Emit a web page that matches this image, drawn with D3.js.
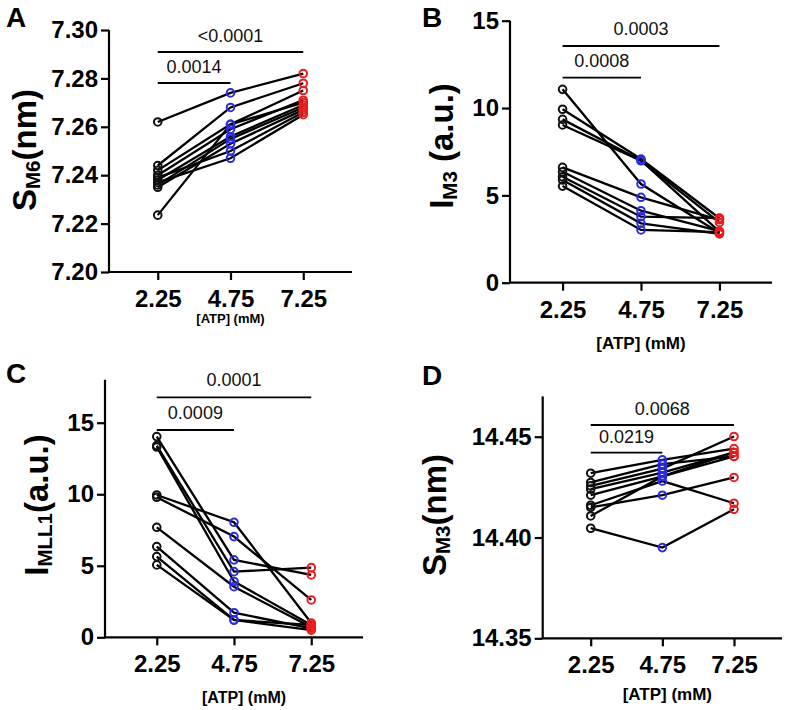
<!DOCTYPE html>
<html>
<head>
<meta charset="utf-8">
<script src="https://cdn.jsdelivr.net/npm/d3@7"></script>
<style>
  body { margin: 0; background: #fff; }
  svg { display: block; }
</style>
</head>
<body>
<svg id="fig"></svg>
<script>
// shared categories and colours per dose
var doses = ["2.25", "4.75", "7.25"];
var doseColors = ["#111111", "#2b2be6", "#ec1c1c"];

// A: S_M6 (nm), one row per sample -> [2.25, 4.75, 7.25]
var sm6 = [
  [7.262, 7.274, 7.282],
  [7.244, 7.268, 7.278],
  [7.242, 7.261, 7.275],
  [7.240, 7.259, 7.271],
  [7.238, 7.256, 7.269],
  [7.236, 7.255, 7.268],
  [7.235, 7.253, 7.267],
  [7.239, 7.250, 7.266],
  [7.237, 7.247, 7.265],
  [7.2235, 7.261, 7.270]
];
var sm6Ticks = [7.20, 7.22, 7.24, 7.26, 7.28, 7.30];
var sm6P = ["0.0014", "<0.0001"];

// B: I_M3 (a.u.)
var im3 = [
  [11.07, 5.65, 2.85],
  [9.93, 7.08, 3.69],
  [9.35, 7.00, 2.92],
  [9.03, 6.98, 3.45],
  [6.60, 4.89, 3.60],
  [6.35, 4.12, 2.95],
  [6.07, 3.78, 3.70],
  [5.88, 3.40, 2.79],
  [5.53, 3.02, 2.90]
];
var im3Ticks = [0, 5, 10, 15];
var im3P = ["0.0008", "0.0003"];

// C: I_MLL1 (a.u.)
var imll1 = [
  [14.03, 5.41, 4.36],
  [13.40, 4.59, 4.87],
  [13.30, 3.90, 0.86],
  [9.95, 8.04, 1.00],
  [9.79, 7.04, 2.61],
  [7.69, 3.54, 0.70],
  [6.34, 1.72, 0.63],
  [5.64, 1.21, 0.86],
  [5.06, 1.21, 0.50]
];
var imll1Ticks = [0, 5, 10, 15];
var imll1P = ["0.0009", "0.0001"];

// D: S_M3 (nm)
var sm3 = [
  [14.4319, 14.4385, 14.4441],
  [14.4273, 14.4364, 14.4402],
  [14.4256, 14.4342, 14.4501],
  [14.4240, 14.4322, 14.4422],
  [14.4210, 14.4303, 14.4402],
  [14.4160, 14.4280, 14.4170],
  [14.4149, 14.4210, 14.4298],
  [14.4107, 14.4303, 14.4422],
  [14.4046, 14.3950, 14.4140]
];
var sm3Ticks = [14.35, 14.40, 14.45];
var sm3P = ["0.0219", "0.0068"];

var FONT = "'Liberation Sans', Arial, Helvetica, sans-serif";

var svg = d3.select('#fig')
    .attr('width', 788)
    .attr('height', 710)
    .style('font-family', FONT);

function drawPanel(cfg) {
  var g = svg.append('g');

  var x = d3.scalePoint()
      .domain(doses)
      .range([cfg.left, cfg.right])
      .padding(0.67);
  var y = d3.scaleLinear()
      .domain(cfg.domain)
      .range([cfg.bottom, cfg.top]);

  // axes
  var xg = g.append('g')
      .attr('transform', `translate(0, ${cfg.bottom})`)
      .call(d3.axisBottom(x).tickSize(8).tickPadding(10).tickSizeOuter(0));
  var yg = g.append('g')
      .attr('transform', `translate(${cfg.left}, 0)`)
      .call(d3.axisLeft(y).tickValues(cfg.ticks).tickFormat(cfg.fmt)
            .tickSize(8).tickPadding(3).tickSizeOuter(0));
  [xg, yg].forEach(a => {
    a.select('.domain').attr('stroke', '#000').attr('stroke-width', 2.2);
    a.selectAll('.tick line').attr('stroke', '#000').attr('stroke-width', 2.2);
    a.selectAll('.tick text')
      .attr('fill', '#000')
      .style('font-family', FONT)
      .style('font-size', '24px')
      .style('font-weight', 'bold');
  });
  yg.select('.domain').attr('d', `M0,${cfg.bottom}V${cfg.top}`);
  xg.select('.domain').attr('d', `M${cfg.left},0H${cfg.right}`);

  // paired lines
  var line = d3.line()
      .x((d, i) => x(doses[i]))
      .y(d => y(d));
  g.append('g').selectAll('path').data(cfg.data).enter()
    .append('path')
    .attr('d', line)
    .attr('fill', 'none')
    .attr('stroke', '#000')
    .attr('stroke-width', 2.3);

  // open circles, coloured by dose
  doses.forEach((dose, j) => {
    g.append('g').selectAll('circle').data(cfg.data).enter()
      .append('circle')
      .attr('cx', x(dose))
      .attr('cy', d => y(d[j]))
      .attr('r', 3.8)
      .attr('fill', 'none')
      .attr('stroke', doseColors[j])
      .attr('stroke-width', 2);
  });

  // significance bars
  var bars = [
    {to: doses[1], y: cfg.barShort, label: cfg.p[0]},
    {to: doses[2], y: cfg.barLong, label: cfg.p[1]}
  ];
  bars.forEach(b => {
    g.append('line')
      .attr('x1', x(doses[0])).attr('x2', x(b.to))
      .attr('y1', b.y).attr('y2', b.y)
      .attr('stroke', '#000').attr('stroke-width', 1.8);
    g.append('text')
      .attr('x', (x(doses[0]) + x(b.to)) / 2)
      .attr('y', b.y - cfg.pGap)
      .attr('text-anchor', 'middle')
      .style('font-size', '18px')
      .attr('fill', '#111')
      .text(b.label);
  });

  // y title with subscript
  var t = g.append('text')
      .attr('transform', `translate(${cfg.titleX}, ${cfg.titleY}) rotate(-90)`)
      .attr('text-anchor', 'middle')
      .style('font-size', '33px')
      .style('font-weight', 'bold')
      .attr('fill', '#000');
  t.append('tspan').text(cfg.title[0]);
  t.append('tspan').attr('dy', 4).style('font-size', '20.5px').text(cfg.title[1]);
  t.append('tspan').attr('dy', -4).text(cfg.title[2]);

  // x title
  g.append('text')
    .attr('x', x(doses[1]) + cfg.xtDx)
    .attr('y', cfg.xtY)
    .attr('text-anchor', 'middle')
    .style('font-size', cfg.xtSize + 'px')
    .style('font-weight', 'bold')
    .attr('fill', '#000')
    .text('[ATP] (mM)');

  // panel letter
  g.append('text')
    .attr('x', cfg.letterX)
    .attr('y', cfg.letterY)
    .style('font-size', '28px')
    .style('font-weight', 'bold')
    .attr('fill', '#000')
    .text(cfg.letter);
}

drawPanel({
  letter: 'A', letterX: 6, letterY: 27,
  data: sm6, domain: [7.20, 7.30], ticks: sm6Ticks, fmt: d3.format('.2f'),
  left: 109, right: 352, top: 30, bottom: 272,
  p: sm6P, barShort: 83, barLong: 52, pGap: 10,
  title: ['S', 'M6', '(nm)'], titleX: 36, titleY: 150,
  xtY: 323, xtSize: 13, xtDx: 0
});

drawPanel({
  letter: 'B', letterX: 422, letterY: 27,
  data: im3, domain: [0, 15], ticks: im3Ticks, fmt: d3.format('d'),
  left: 510, right: 772, top: 20.7, bottom: 282.7,
  p: im3P, barShort: 77.7, barLong: 46, pGap: 11,
  title: ['I', 'M3', ' (a.u.)'], titleX: 453, titleY: 146,
  xtY: 349, xtSize: 17, xtDx: 0
});

drawPanel({
  letter: 'C', letterX: 6, letterY: 383,
  data: imll1, domain: [0, 18], ticks: imll1Ticks, fmt: d3.format('d'),
  left: 105, right: 363, top: 379.8, bottom: 637.3,
  p: imll1P, barShort: 430, barLong: 397.3, pGap: 11,
  title: ['I', 'MLL1', '(a.u.)'], titleX: 48, titleY: 505,
  xtY: 703, xtSize: 16, xtDx: 10
});

drawPanel({
  letter: 'D', letterX: 422, letterY: 385,
  data: sm3, domain: [14.35, 14.47], ticks: sm3Ticks, fmt: d3.format('.2f'),
  left: 542.7, right: 782, top: 396.4, bottom: 638.3,
  p: sm3P, barShort: 452.7, barLong: 425, pGap: 10,
  title: ['S', 'M3', '(nm)'], titleX: 446, titleY: 515,
  xtY: 700, xtSize: 17, xtDx: 5
});
</script>
</body>
</html>
